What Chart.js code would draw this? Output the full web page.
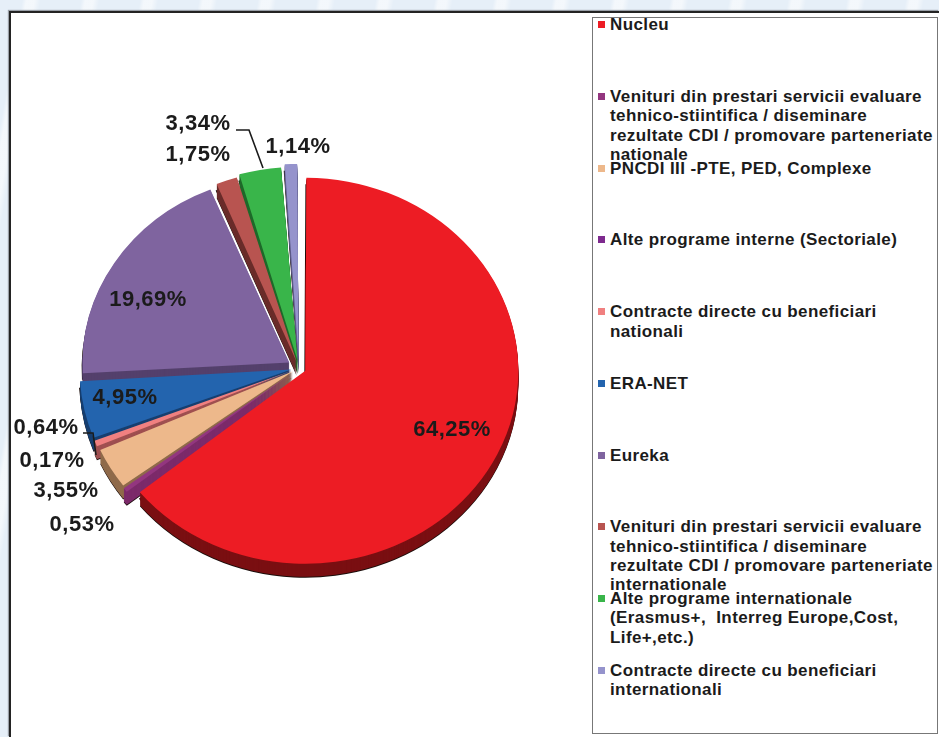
<!DOCTYPE html>
<html>
<head>
<meta charset="utf-8">
<script src="https://cdn.jsdelivr.net/npm/chart.js@4"></script>
<style>
html,body{margin:0;padding:0;width:939px;height:737px;overflow:hidden;}
#stage{position:absolute;left:0;top:0;width:939px;height:737px;filter:blur(0.55px);
background:
 repeating-linear-gradient(100deg,rgba(255,255,255,0) 0 22px,rgba(255,255,255,.55) 26px 34px,rgba(255,255,255,0) 40px 58px),
 #e6eff8;}
#panel{position:absolute;left:9px;top:11px;width:930px;height:726px;background:#fff;border-left:2px solid #232323;border-top:2px solid #232323;box-sizing:border-box;box-shadow:-1px -1px 1px #9aa0a8;}
canvas{position:absolute;left:0;top:0;}
#legend{position:absolute;left:592px;top:17px;width:346px;height:717px;box-sizing:border-box;border:1.5px solid #777;background:#fff;
 font:bold 17px "Liberation Sans",Arial,sans-serif;color:#1b1b1b;}
.item{position:absolute;left:17px;white-space:pre;line-height:19.4px;letter-spacing:.39px;}
.mark{position:absolute;left:5px;width:7px;height:7px;}
</style>
</head>
<body>
<div id="stage">
<div id="panel"></div>
<div id="legend"></div>
<canvas id="c" width="939" height="737"></canvas>
</div>
<script>
const categories = [
 ["Nucleu"],
 ["Venituri din prestari servicii evaluare","tehnico-stiintifica / diseminare","rezultate CDI / promovare parteneriate","nationale"],
 ["PNCDI III -PTE, PED, Complexe"],
 ["Alte programe interne (Sectoriale)"],
 ["Contracte directe cu beneficiari","nationali"],
 ["ERA-NET"],
 ["Eureka"],
 ["Venituri din prestari servicii evaluare","tehnico-stiintifica / diseminare","rezultate CDI / promovare parteneriate","internationale"],
 ["Alte programe internationale","(Erasmus+,  Interreg Europe,Cost,","Life+,etc.)"],
 ["Contracte directe cu beneficiari","internationali"]
];
const values = [64.25,0.53,3.55,0.17,0.64,4.95,19.69,1.75,3.34,1.14];
const valueLabels = ["64,25%","0,53%","3,55%","0,17%","0,64%","4,95%","19,69%","1,75%","3,34%","1,14%"];
const faceColors = ["#ED1C24","#93367F","#EDB88B","#7E2A8E","#F08080","#2364AE","#7F649F","#B85450","#39B54A","#9593CC"];
const sideColors = ["#7A0F12","#7C2A6A","#8F6A4A","#4F1A5A","#A05050","#173F70","#54406C","#6A2C2A","#1F6A2A","#5E5C88"];
const sliceOffsets = [28,28,28,28,28,32,46,28,36,40];

const labelCenters = [[452,430],[82,525],[66,491],[52,461],[46,428],[125,398],[148,300],[198,155],[198,124],[298,147]];
const leaders = [[[236,130],[249,130],[263,168]],[[83,433],[93,433],[96,455]]];
const tilt = 0.906, depth = 13;
const cx = 299, cy = 368, radius = 206;

const legendEl = document.getElementById('legend');
categories.forEach((lines,i)=>{
  const top = 24 - 17 - 9.7 + i*71.7;
  const m = document.createElement('div'); m.className='mark';
  m.style.top=(top+6)+'px'; m.style.background=faceColors[i]; legendEl.appendChild(m);
  const d = document.createElement('div'); d.className='item';
  d.style.top=top+'px'; d.textContent=lines.join('\n'); legendEl.appendChild(d);
});

function project(ctx,d){
  ctx.translate(cx,cy+d); ctx.scale(1,tilt); ctx.translate(-cx,-cy);
}
function paintWith(el,ctx,color){
  const orig = el.options;
  const o = Object.create(orig);
  o.backgroundColor = color;
  el.options = o;
  el.draw(ctx);
  el.options = orig;
}
const pie3d = {
  id:'pie3d',
  beforeDatasetDraw(chart,args){
    const ctx = chart.ctx, arcs = args.meta.data;
    ctx.save();
    ctx.save(); project(ctx,depth+1);
    arcs.forEach(a=>paintWith(a,ctx,'#1a0d0a')); ctx.restore();
    ctx.save(); ctx.translate(-1,0); project(ctx,depth/2);
    arcs.forEach(a=>paintWith(a,ctx,'#1a0d0a')); ctx.restore();
    for(let d=depth;d>=1;d--){
      ctx.save(); project(ctx,d);
      arcs.forEach((a,i)=>paintWith(a,ctx,sideColors[i]));
      ctx.restore();
    }
    project(ctx,0);
  },
  afterDatasetDraw(chart){ chart.ctx.restore(); },
  afterDraw(chart){
    const ctx = chart.ctx;
    ctx.save();
    ctx.strokeStyle='#1b1b1b'; ctx.lineWidth=1.6;
    leaders.forEach(p=>{ ctx.beginPath(); p.forEach((q,i)=> i?ctx.lineTo(q[0],q[1]):ctx.moveTo(q[0],q[1])); ctx.stroke(); });
    ctx.fillStyle='#1b1b1b';
    ctx.font='bold 22px "Liberation Sans",Arial,sans-serif';
    ctx.textAlign='center'; ctx.textBaseline='middle';
    try{ ctx.letterSpacing='0.5px'; }catch(e){}
    valueLabels.forEach((t,i)=>ctx.fillText(t,labelCenters[i][0],labelCenters[i][1]));
    ctx.restore();
  }
};

new Chart(document.getElementById('c'),{
  type:'pie',
  data:{labels:categories.map(l=>l.join(' ')),datasets:[{data:values,backgroundColor:faceColors,borderWidth:0,offset:sliceOffsets,clip:false}]},
  options:{
    responsive:false,animation:false,radius:radius,
    layout:{padding:{left:0,top:0,right:939-2*cx,bottom:737-2*cy}},
    plugins:{legend:{display:false},tooltip:{enabled:false},title:{display:false}},
    events:[]
  },
  plugins:[pie3d]
});
</script>
</body>
</html>
